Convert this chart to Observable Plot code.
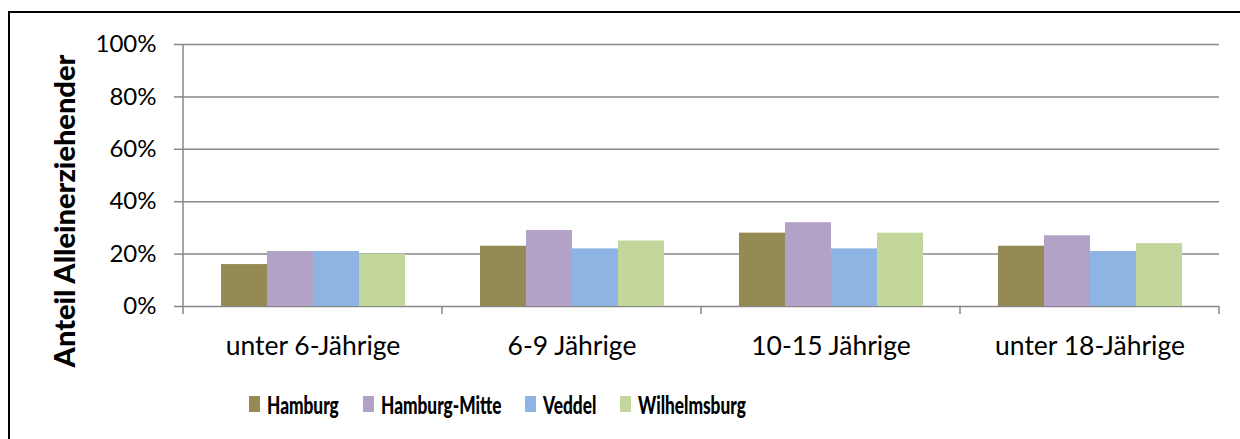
<!DOCTYPE html>
<html><head><meta charset="utf-8">
<script src="https://cdn.jsdelivr.net/npm/d3@7"></script>
<script src="https://cdn.jsdelivr.net/npm/@observablehq/plot@0.6"></script>
<style>
body{margin:0;background:#fff;width:1240px;height:439px;overflow:hidden;position:relative;font-family:Lato,sans-serif}
#frame{position:absolute;left:8px;top:11px;right:-10px;bottom:-10px;border-top:2px solid #000;border-left:2px solid #000}
#chart{position:absolute;left:0;top:0}
#ytitle{position:absolute;left:63px;top:211px;transform:translate(-50%,-50%) rotate(-90deg);font-weight:900;font-size:29px;font-family:Lato,sans-serif;white-space:nowrap;color:#000}
#legend{position:absolute;left:249px;top:393px;display:flex;align-items:center;font-weight:900;font-size:25px;font-family:Lato,sans-serif;color:#000;line-height:22px}
#legend .item{display:flex;align-items:center;margin-right:24px}
#legend .sw{width:11px;height:16px;margin-right:7px;flex:none}
#legend .tw{display:inline-block;overflow:visible;white-space:nowrap}
#legend .tx{display:inline-block;transform-origin:0 50%;white-space:nowrap}
</style></head>
<body>
<div id="frame"></div>
<div id="chart"></div>
<div id="ytitle">Anteil Alleinerziehender</div>
<div id="legend"></div>
<script>
const categories = ["unter 6-Jährige", "6-9 Jährige", "10-15 Jährige", "unter 18-Jährige"];
const seriesNames = ["Hamburg", "Hamburg-Mitte", "Veddel", "Wilhelmsburg"];
const hamburg = [16, 23, 28, 23];
const hamburgMitte = [21, 29, 32, 27];
const veddel = [21, 22, 22, 21];
const wilhelmsburg = [20, 25, 28, 24];
const seriesColors = ["#948A54", "#B3A2C7", "#8EB4E3", "#C3D69B"];
const yTicks = [0, 20, 40, 60, 80, 100];

const seriesValues = [hamburg, hamburgMitte, veddel, wilhelmsburg];
const data = [];
categories.forEach((c, i) => seriesNames.forEach((s, j) => data.push({category: c, series: s, value: seriesValues[j][i]})));

const gray = "#878787";

const frameTicks = Plot.ruleY(categories, {
  fx: d => d, y: () => 0,
  render(index, scales, values, dimensions) {
    const {marginLeft, marginRight, width} = dimensions;
    const x0 = marginLeft, x1 = width - marginRight;
    const yb = scales.y(0), yt = scales.y(100);
    const g = d3.create("svg:g").attr("stroke", gray).attr("stroke-width", 1.5);
    g.append("line").attr("x1", x0).attr("x2", x0).attr("y1", yb).attr("y2", yb + 8);
    if (index[0] === categories.length - 1)
      g.append("line").attr("x1", x1).attr("x2", x1).attr("y1", yb).attr("y2", yb + 8);
    if (index[0] === 0)
      g.append("line").attr("x1", x0).attr("x2", x0).attr("y1", yt).attr("y2", yb);
    return g.node();
  }
});

const chart = Plot.plot({
  width: 1240,
  height: 360,
  marginLeft: 182,
  marginRight: 20,
  marginTop: 44,
  marginBottom: 54,
  style: {fontFamily: "Lato, sans-serif", color: "#000", background: "transparent"},
  fx: {domain: categories, padding: 0, label: null, axis: null},
  x: {domain: seriesNames, paddingInner: 0, paddingOuter: 0.76, axis: null},
  y: {domain: [0, 100], axis: null},
  color: {domain: seriesNames, range: seriesColors},
  marks: [
    Plot.ruleY(yTicks, {stroke: gray, strokeWidth: 1.5}),
    Plot.barY(data, {fx: "category", x: "series", y: "value", fill: "series"}),
    frameTicks,
    Plot.axisY({ticks: yTicks, tickFormat: d => d + "%", tickSize: 9, tickPadding: 18, fontSize: 24, stroke: gray, strokeWidth: 1.5, fill: "#000", label: null}),
    Plot.axisFx({anchor: "bottom", tickSize: 0, tickPadding: 30, fontSize: 26.5, fill: "#000", label: null})
  ]
});
document.getElementById("chart").appendChild(chart);

const legend = document.getElementById("legend");
const squeeze = 0.69;
seriesNames.forEach((s, i) => {
  const item = document.createElement("div");
  item.className = "item";
  const sw = document.createElement("span");
  sw.className = "sw";
  sw.style.background = seriesColors[i];
  const tw = document.createElement("span");
  tw.className = "tw";
  const t = document.createElement("span");
  t.className = "tx";
  t.textContent = s;
  tw.appendChild(t);
  item.appendChild(sw); item.appendChild(tw);
  legend.appendChild(item);
  const w = t.getBoundingClientRect().width;
  t.style.transform = `scaleX(${squeeze})`;
  tw.style.width = (w * squeeze) + "px";
});
</script>
</body></html>
